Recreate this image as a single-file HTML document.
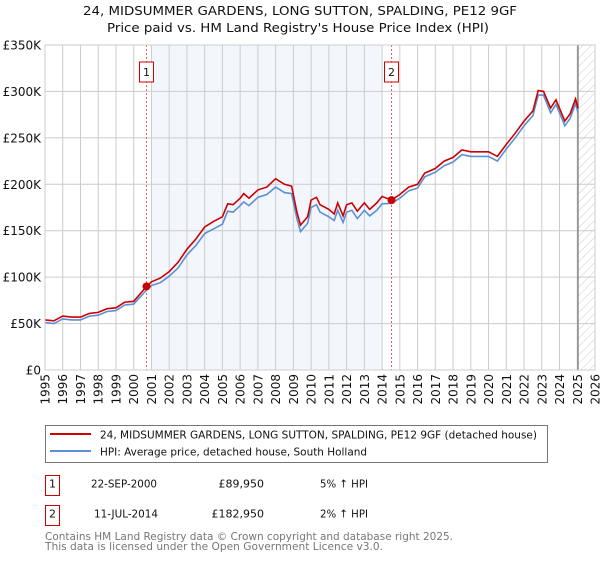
<!DOCTYPE html>
<html><head><meta charset="utf-8"><style>
body{margin:0;background:#fff;width:600px;height:560px;overflow:hidden;font-family:"DejaVu Sans","Liberation Sans",sans-serif;}
svg text{font-family:"DejaVu Sans","Liberation Sans",sans-serif;}
</style></head><body>
<svg id="c" width="600" height="560" xmlns="http://www.w3.org/2000/svg">
<defs><pattern id="hatch" width="6" height="6" patternUnits="userSpaceOnUse" patternTransform="rotate(45)"><line x1="0" y1="0" x2="0" y2="6" stroke="#ccc" stroke-width="1"/></pattern></defs>
<text x="83" y="15" font-size="12.5" fill="#111" textLength="434" lengthAdjust="spacingAndGlyphs">24, MIDSUMMER GARDENS, LONG SUTTON, SPALDING, PE12 9GF</text>
<text x="107" y="32" font-size="12.5" fill="#111" textLength="382" lengthAdjust="spacingAndGlyphs">Price paid vs. HM Land Registry's House Price Index (HPI)</text>
<g id="plot"></g>
<rect x="45.5" y="425.5" width="502" height="37" fill="#fff" stroke="#777"/>
<line x1="50" y1="434" x2="91" y2="434" stroke="#cc0000" stroke-width="2"/>
<text x="100" y="438.5" font-size="11" fill="#111" textLength="437" lengthAdjust="spacingAndGlyphs">24, MIDSUMMER GARDENS, LONG SUTTON, SPALDING, PE12 9GF (detached house)</text>
<line x1="50" y1="451" x2="91" y2="451" stroke="#5b8fd6" stroke-width="2"/>
<text x="100" y="455.5" font-size="11" fill="#111" textLength="267" lengthAdjust="spacingAndGlyphs">HPI: Average price, detached house, South Holland</text>
<g>
<rect x="45.5" y="475.5" width="14" height="20" fill="#fff" stroke="#cc0000"/>
<text x="52.5" y="487.5" text-anchor="middle" font-size="11" fill="#111">1</text>
<text x="91" y="487.5" font-size="11" fill="#111" textLength="66" lengthAdjust="spacingAndGlyphs">22-SEP-2000</text>
<text x="264" y="487.5" text-anchor="end" font-size="11" fill="#111">£89,950</text>
<text x="320" y="487.5" font-size="11" fill="#111" textLength="48" lengthAdjust="spacingAndGlyphs">5% ↑ HPI</text>
</g>
<g>
<rect x="45.5" y="505.5" width="14" height="20" fill="#fff" stroke="#cc0000"/>
<text x="52.5" y="517.5" text-anchor="middle" font-size="11" fill="#111">2</text>
<text x="94" y="517.5" font-size="11" fill="#111" textLength="64" lengthAdjust="spacingAndGlyphs">11-JUL-2014</text>
<text x="264" y="517.5" text-anchor="end" font-size="11" fill="#111">£182,950</text>
<text x="320" y="517.5" font-size="11" fill="#111" textLength="48" lengthAdjust="spacingAndGlyphs">2% ↑ HPI</text>
</g>
<text x="45" y="540" font-size="11" fill="#777" textLength="408" lengthAdjust="spacingAndGlyphs">Contains HM Land Registry data © Crown copyright and database right 2025.</text>
<text x="45" y="550" font-size="11" fill="#777" textLength="338" lengthAdjust="spacingAndGlyphs">This data is licensed under the Open Government Licence v3.0.</text>
</svg>
<script>
const yTicks=[0,50000,100000,150000,200000,250000,300000,350000];
const yTickLabels=["£0","£50K","£100K","£150K","£200K","£250K","£300K","£350K"];
const xYears=[1995,1996,1997,1998,1999,2000,2001,2002,2003,2004,2005,2006,2007,2008,2009,2010,2011,2012,2013,2014,2015,2016,2017,2018,2019,2020,2021,2022,2023,2024,2025,2026];
const redT=[1995,1995.5,1996,1996.5,1997,1997.5,1998,1998.5,1999,1999.5,2000,2000.72,2001,2001.5,2002,2002.5,2003,2003.5,2004,2004.5,2005,2005.3,2005.6,2006,2006.2,2006.5,2007,2007.5,2008,2008.5,2008.9,2009.2,2009.4,2009.8,2010,2010.3,2010.5,2011,2011.3,2011.5,2011.8,2012,2012.3,2012.6,2013,2013.3,2013.7,2014,2014.53,2015,2015.5,2016,2016.4,2017,2017.5,2018,2018.5,2019,2019.5,2020,2020.5,2021,2021.5,2022,2022.5,2022.8,2023.1,2023.5,2023.8,2024.3,2024.6,2024.9,2025.05];
const redV=[54,53,58,57,57,61,62,66,67,73,74,89.95,95,99,106,116,130,141,154,160,165,179,178,185,190,185,194,197,206,200,198,170,156,165,183,186,178,173,168,180,166,178,180,171,180,173,180,187,182.95,189,197,200,212,217,225,229,237,235,235,235,230,243,255,268,279,301,300,282,291,268,276,292,282];
const hpiV=[51,50,55,54,54,58,59,63,64,70,71,86,91,94,101,110,124,134,147,152,157,171,170,177,181,177,186,189,197,191,190,163,149,158,175,178,170,165,161,172,159,170,172,163,172,166,172,179,179.5,185,193,196,208,213,220,224,232,230,230,230,225,238,250,263,274,296,296,277,286,263,271,287,277];
const sales=[{t:2000.72,v:89950,n:"1"},{t:2014.53,v:182950,n:"2"}];
const L=45,R=595,T=45,B=370,Y0=1995,Y1=2026,VMAX=350000;
const xs=t=>L+(t-Y0)/(Y1-Y0)*(R-L);
const ys=v=>B-v/VMAX*(B-T);
const NS="http://www.w3.org/2000/svg";
const g=document.getElementById('plot');
function mk(tag,a){const e=document.createElementNS(NS,tag);for(const k in a)e.setAttribute(k,a[k]);g.appendChild(e);return e;}
let e=mk('rect',{x:xs(2001),y:T,width:xs(2014)-xs(2001),height:B-T,fill:'#eef3fc',opacity:0.7});


e=mk('rect',{x:xs(2025.04),y:T,width:R-xs(2025.04),height:B-T,fill:'url(#hatch)'});


xYears.forEach(y=>{
 let l=mk('line',{x1:xs(y),x2:xs(y),y1:T,y2:B,stroke:'#ccc','stroke-width':1});
 
 
 let t=mk('text',{x:0,y:0,'font-size':12,fill:'#111','text-anchor':'end',transform:`translate(${xs(y)+4.5},${B+4}) rotate(-90)`});
 t.textContent=y;
 
 
});
yTicks.forEach((v,i)=>{
 let l=mk('line',{x1:L,x2:R,y1:ys(v),y2:ys(v),stroke:'#ccc','stroke-width':1});
 
 
 let t=mk('text',{x:L-4,y:ys(v)+4.5,'font-size':12,fill:'#111','text-anchor':'end'});
 t.textContent=yTickLabels[i];
 
 
});
e=mk('line',{x1:xs(2025.04),x2:xs(2025.04),y1:T,y2:B,stroke:'#888','stroke-width':1.5});


sales.forEach(s=>{
 let l=mk('line',{x1:xs(s.t),x2:xs(s.t),y1:T,y2:B,stroke:'#e06070','stroke-width':1,'stroke-dasharray':'2,2'});
 
 
});
function path(vals,col,name){
 const d=redT.map((t,i)=>(i?'L':'M')+xs(t).toFixed(1)+','+ys(vals[i]*1000).toFixed(1)).join('');
 const p=mk('path',{d:d,fill:'none',stroke:col,'stroke-width':1.6});
 
 
}
path(hpiV,'#5b8fd6','hpi-line');
path(redV,'#cc0000','price-line');
sales.forEach(s=>{
 let c=mk('circle',{cx:xs(s.t),cy:ys(s.v),r:4,fill:'#cc0000'});
 
 
 let r=mk('rect',{x:xs(s.t)-7,y:62,width:14,height:20,fill:'#fff',stroke:'#cc0000'});
 
 
 let t=mk('text',{x:xs(s.t),y:76,'font-size':11,fill:'#111','text-anchor':'middle'});
 t.textContent=s.n;
 
 
});
e=mk('rect',{x:L,y:T,width:R-L,height:B-T,fill:'none',stroke:'#ccc'});


</script>
</body></html>
